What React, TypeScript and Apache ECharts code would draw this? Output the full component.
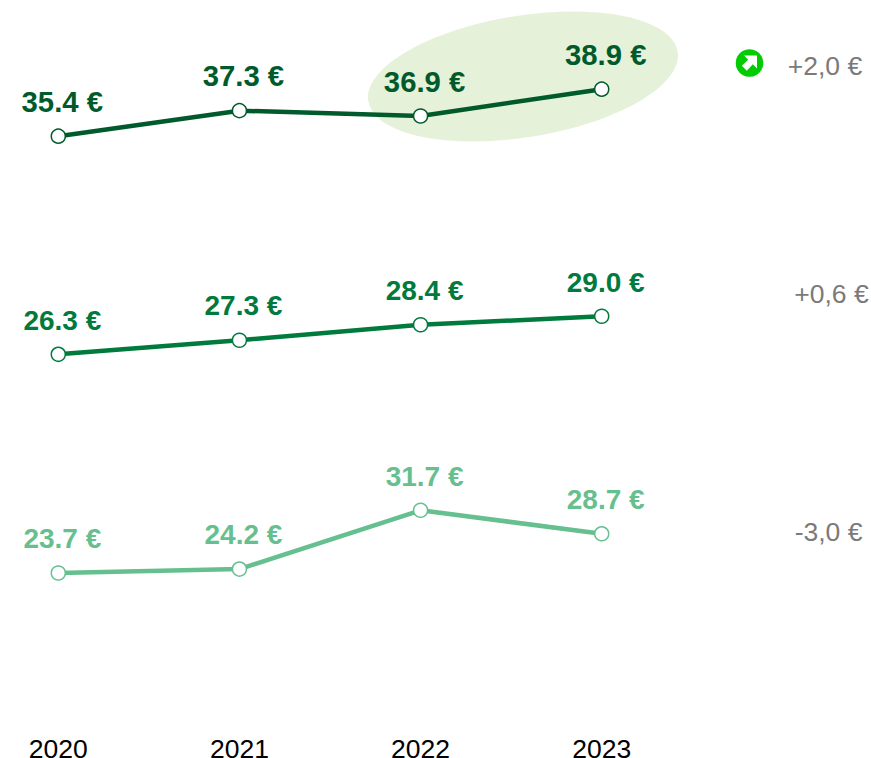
import React, { useEffect, useRef } from "react";
import * as echarts from "echarts";

const years = ["2020", "2021", "2022", "2023"];
const topValues = [35.4, 37.3, 36.9, 38.9];
const middleValues = [26.3, 27.3, 28.4, 29.0];
const bottomValues = [23.7, 24.2, 31.7, 28.7];
const deltaLabels = ["+2,0 €", "+0,6 €", "-3,0 €"];

const FONT = '"Liberation Sans", Arial, sans-serif';

function lineSeries(values: number[], index: number, color: string, fontSize: number, width: number) {
  return {
    type: "line",
    xAxisIndex: index,
    yAxisIndex: index,
    data: values,
    smooth: false,
    symbol: "circle",
    symbolSize: 14,
    showAllSymbol: true,
    lineStyle: { color, width },
    itemStyle: { color: "#ffffff", borderColor: color, borderWidth: 1.5 },
    label: {
      show: true,
      position: "top",
      distance: 12.5,
      offset: [4, 0],
      color,
      fontFamily: FONT,
      fontWeight: "bold",
      fontSize,
      formatter: (p: any) => `${Number(p.value).toFixed(1)} €`,
    },
    emphasis: { disabled: true },
    silent: true,
  };
}

export default function App() {
  const ref = useRef<HTMLDivElement>(null);
  useEffect(() => {
    document.body.style.margin = "0";
    const chart = echarts.init(ref.current!, undefined, { renderer: "svg" });
    const grids = [
      { left: 58.3, width: 543.4, top: 74.4, height: 134.3, outerBoundsMode: "none" },
      { left: 58.3, width: 543.4, top: 302.2, height: 70.4, outerBoundsMode: "none" },
      { left: 58.3, width: 543.4, top: 484.4, height: 235.2, outerBoundsMode: "none" },
    ];
    const ranges = [
      [30, 40],
      [25, 30],
      [5, 35],
    ];
    chart.setOption({
      animation: false,
      backgroundColor: "#ffffff",
      grid: grids,
      xAxis: grids.map((_, i) => ({
        type: "category",
        gridIndex: i,
        data: years,
        boundaryGap: false,
        axisLine: { show: false },
        axisTick: { show: false },
        splitLine: { show: false },
        axisLabel: {
          show: i === 2,
          interval: 0,
          color: "#000000",
          fontFamily: FONT,
          fontSize: 26.5,
          margin: 16,
        },
      })),
      yAxis: grids.map((_, i) => ({
        type: "value",
        gridIndex: i,
        min: ranges[i][0],
        max: ranges[i][1],
        show: false,
      })),
      series: [
        lineSeries(topValues, 0, "#005a2b", 29.3, 4.5),
        lineSeries(middleValues, 1, "#007a3d", 28, 4.5),
        lineSeries(bottomValues, 2, "#66bf8f", 28, 4.5),
      ],
      graphic: [
        {
          type: "ellipse",
          x: 523,
          y: 76.5,
          rotation: (9.1 * Math.PI) / 180,
          shape: { cx: 0, cy: 0, rx: 156.7, ry: 60.9 },
          style: { fill: "#e6f1d9" },
          z: -1,
          silent: true,
        },
        {
          type: "circle",
          shape: { cx: 749.5, cy: 63, r: 13.8 },
          style: { fill: "#00cc00" },
          silent: true,
        },
        {
          type: "polygon",
          shape: {
            points: [
              [744, 55.5],
              [757, 55.5],
              [757, 68.5],
              [752.8, 64.3],
              [746.8, 70.8],
              [741.8, 65.8],
              [748.2, 59.7],
            ],
          },
          style: { fill: "#ffffff" },
          silent: true,
        },
        ...deltaLabels.map((text, i) => ({
          type: "text",
          x: [825, 831.5, 828.5][i],
          y: [66, 294, 532][i],
          style: {
            text,
            fill: "#7a7a7a",
            fontFamily: FONT,
            fontSize: 26.5,
            align: "center",
            verticalAlign: "middle",
          },
          silent: true,
        })),
      ],
    });
    return () => chart.dispose();
  }, []);
  return <div ref={ref} style={{ width: 871, height: 758 }} />;
}
